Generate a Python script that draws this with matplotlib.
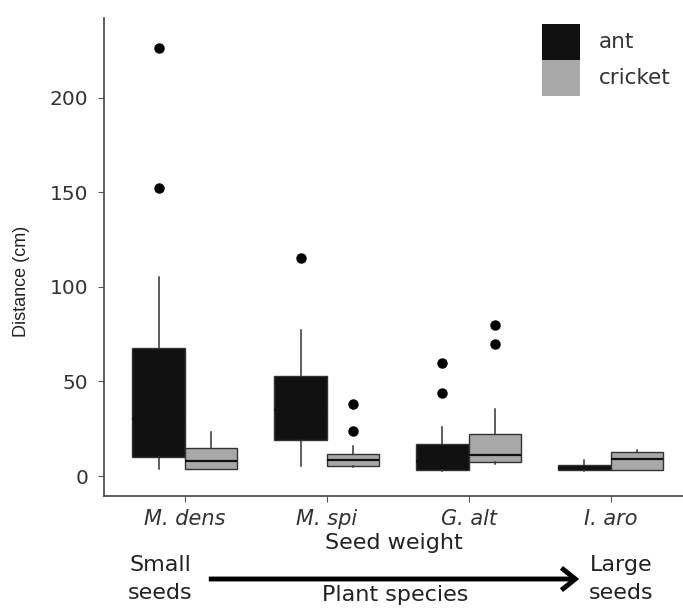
import matplotlib
matplotlib.use("Agg")
import matplotlib.pyplot as plt
from matplotlib.patches import Rectangle, FancyArrowPatch

plt.rcParams['font.family'] = ['DejaVu Sans']

species = ["M. dens", "M. spi", "G. alt", "I. aro"]
groups = ["ant", "cricket"]
group_colors = ["#111111", "#a8a8a8"]

# five-number summaries: [whislo, q1, med, q3, whishi]
ant_stats = [
    [3.5, 10.0, 30.0, 67.5, 105.0],
    [5.5, 19.0, 35.0, 53.0, 77.0],
    [2.8, 3.0, 8.0, 17.0, 26.0],
    [2.8, 3.0, 4.5, 6.0, 8.5],
]
ant_fliers = [[226.0, 152.0], [115.0], [60.0, 44.0], []]
cricket_stats = [
    [3.5, 3.7, 8.0, 14.8, 23.5],
    [5.0, 5.4, 8.6, 11.6, 16.0],
    [6.3, 7.2, 11.4, 22.5, 35.5],
    [3.3, 3.4, 9.0, 12.7, 14.0],
]
cricket_fliers = [[], [38.0, 24.0], [80.0, 70.0], []]

yticks = [0, 50, 100, 150, 200]

W, H = 683, 609
fig = plt.figure(figsize=(W / 100, H / 100), dpi=100)
ax = fig.add_axes([104 / W, 1 - 496 / H, (W - 104) / W, (496 - 18) / H])

def make_stats(stats, fliers):
    out = []
    for s, f in zip(stats, fliers):
        out.append(dict(whislo=s[0], q1=s[1], med=s[2], q3=s[3], whishi=s[4], fliers=f))
    return out

width = 0.37
for gi, (stats, fliers) in enumerate([(ant_stats, ant_fliers), (cricket_stats, cricket_fliers)]):
    pos = [i + (gi - 0.5) * width for i in range(len(species))]
    ax.bxp(make_stats(stats, fliers), positions=pos, widths=width, patch_artist=True,
           showcaps=False,
           boxprops=dict(facecolor=group_colors[gi], edgecolor="#333333", linewidth=1.0),
           medianprops=dict(color="#111111", linewidth=1.6),
           whiskerprops=dict(color="#333333", linewidth=1.1),
           flierprops=dict(marker='o', markerfacecolor='black', markeredgecolor='black',
                           markersize=6.5))

ax.set_xlim(-0.57, 3.51)
ax.set_ylim(-10.5, 242)
ax.set_xticks(range(len(species)))
ax.set_xticklabels(species, fontstyle='italic', fontsize=15, color="#333333")
ax.set_yticks(yticks)
ax.set_yticklabels([str(v) for v in yticks], fontsize=14.5, color="#333333")
ax.tick_params(axis='both', length=4.5, color="#555555", pad=5)
ax.tick_params(axis='y', pad=7)
ax.spines['top'].set_visible(False)
ax.spines['right'].set_visible(False)
for s in ['left', 'bottom']:
    ax.spines[s].set_color("#444444")
    ax.spines[s].set_linewidth(1.2)
ax.set_ylabel("Distance (cm)", fontsize=13, family='Liberation Sans', color="#222222")
ax.yaxis.set_label_coords(-0.128, 0.448)
ax.set_xlabel("Seed weight", fontsize=16, color="#222222", labelpad=3)

# legend (key squares stacked like ggplot's fill legend)
key_x, key_top, key_w, key_h = 542, 24, 38, 36
for i, (g, c) in enumerate(zip(groups, group_colors)):
    y0 = key_top + i * key_h
    fig.patches.append(Rectangle((key_x / W, 1 - (y0 + key_h) / H), key_w / W, key_h / H,
                                 transform=fig.transFigure, facecolor=c, edgecolor='none'))
    fig.text(599 / W, 1 - (y0 + key_h / 2) / H, g, ha='left', va='center',
             fontsize=15.5, color="#333333")

# bottom annotation
fs = 16
fig.text(160 / W, 1 - 565 / H, "Small", ha='center', va='center', fontsize=fs, color="#222222")
fig.text(160 / W, 1 - 593 / H, "seeds", ha='center', va='center', fontsize=fs, color="#222222")
fig.text(621 / W, 1 - 565 / H, "Large", ha='center', va='center', fontsize=fs, color="#222222")
fig.text(621 / W, 1 - 593 / H, "seeds", ha='center', va='center', fontsize=fs, color="#222222")
fig.text(395 / W, 1 - 595 / H, "Plant species", ha='center', va='center', fontsize=fs, color="#222222")
fig.patches.append(FancyArrowPatch(
    (206 / W, 1 - 579 / H), (582 / W, 1 - 579 / H), transform=fig.transFigure,
    arrowstyle='->,head_length=0.5,head_width=0.4', linewidth=3.5, color='black',
    mutation_scale=20, joinstyle='miter', capstyle='butt'))

fig.savefig("out.png", dpi=100)
